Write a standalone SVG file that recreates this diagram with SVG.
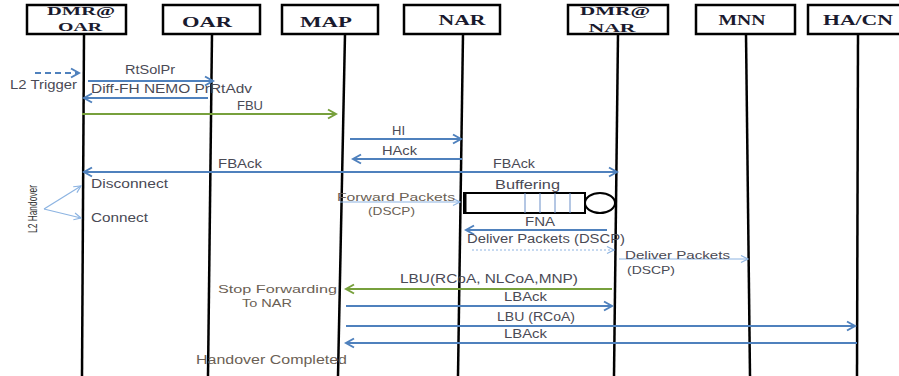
<svg xmlns="http://www.w3.org/2000/svg" width="899" height="376" viewBox="0 0 899 376">
<style>
.box{fill:#fff;stroke:#000;stroke-width:2.5}
.life{stroke:#000;stroke-width:2.5;fill:none}
.hd{font-family:"Liberation Serif",serif;font-weight:bold;fill:#1a1a2e;text-anchor:middle}
.lb{font-family:"Liberation Sans",sans-serif;font-size:12px;fill:#4a4a55}
.br{fill:#6b5f55}
.blue{stroke:#4f81bd;stroke-width:2.2;fill:none}
.green{stroke:#77a03c;stroke-width:2.2;fill:none}
.thin{stroke:#8db4e2;stroke-width:1.2;fill:none}
</style>
<defs>
<marker id="ab" markerUnits="userSpaceOnUse" markerWidth="12" markerHeight="12" refX="10" refY="6" orient="auto-start-reverse"><path d="M2,1.5 L10,6 L2,10.5" fill="none" stroke="#4f81bd" stroke-width="2"/></marker>
<marker id="ag" markerUnits="userSpaceOnUse" markerWidth="12" markerHeight="12" refX="10" refY="6" orient="auto"><path d="M2,1.5 L10,6 L2,10.5" fill="none" stroke="#77a03c" stroke-width="2"/></marker>
<marker id="at" markerUnits="userSpaceOnUse" markerWidth="10" markerHeight="10" refX="8" refY="5" orient="auto-start-reverse"><path d="M1,1.5 L8,5 L1,8.5" fill="none" stroke="#8db4e2" stroke-width="1.2"/></marker>
</defs>

<g id="dmr-oar">
<line class="life" x1="84" y1="34" x2="82" y2="376"/>
<rect class="box" x="27" y="5" width="99" height="29"/>
<text class="hd" x="81" y="15" font-size="13" textLength="68" lengthAdjust="spacingAndGlyphs">DMR@</text>
<text class="hd" x="80" y="31" font-size="13" textLength="44" lengthAdjust="spacingAndGlyphs">OAR</text>
</g>
<g id="oar">
<line class="life" x1="212" y1="34" x2="208" y2="376"/>
<rect class="box" x="163" y="5" width="97" height="29"/>
<text class="hd" x="207" y="27" font-size="15" textLength="50" lengthAdjust="spacingAndGlyphs">OAR</text>
</g>
<g id="map">
<line class="life" x1="345" y1="34" x2="338" y2="376"/>
<rect class="box" x="282" y="5" width="96" height="29"/>
<text class="hd" x="326" y="27" font-size="15" textLength="52" lengthAdjust="spacingAndGlyphs">MAP</text>
</g>
<g id="nar">
<line class="life" x1="463" y1="34" x2="458" y2="376"/>
<rect class="box" x="404" y="5" width="96" height="29"/>
<text class="hd" x="462" y="25" font-size="15" textLength="47" lengthAdjust="spacingAndGlyphs">NAR</text>
</g>
<g id="dmr-nar">
<line class="life" x1="618" y1="34" x2="614" y2="376"/>
<rect class="box" x="568" y="5" width="100" height="29"/>
<text class="hd" x="615" y="15" font-size="13" textLength="70" lengthAdjust="spacingAndGlyphs">DMR@</text>
<text class="hd" x="612" y="32" font-size="13" textLength="47" lengthAdjust="spacingAndGlyphs">NAR</text>
</g>
<g id="mnn">
<line class="life" x1="746" y1="34" x2="750" y2="376"/>
<rect class="box" x="696" y="5" width="99" height="29"/>
<text class="hd" x="742" y="25" font-size="14" textLength="47" lengthAdjust="spacingAndGlyphs">MNN</text>
</g>
<g id="ha-cn">
<line class="life" x1="858" y1="34" x2="857" y2="376"/>
<rect class="box" x="808" y="5" width="93" height="29"/>
<text class="hd" x="858" y="25" font-size="14" textLength="70" lengthAdjust="spacingAndGlyphs">HA/CN</text>
</g>

<g id="connectors">
<line class="blue" x1="35" y1="73" x2="79" y2="73" stroke-dasharray="6,4" marker-end="url(#ab)"/>
<line class="blue" x1="88" y1="81" x2="213" y2="81" marker-end="url(#ab)"/>
<line class="blue" x1="208" y1="98" x2="84" y2="98" marker-end="url(#ab)"/>
<line class="green" x1="82" y1="114" x2="336" y2="114" marker-end="url(#ag)"/>
<line class="blue" x1="350" y1="139" x2="461" y2="139" marker-end="url(#ab)"/>
<line class="blue" x1="462" y1="159" x2="353" y2="159" marker-end="url(#ab)"/>
<line class="blue" x1="617" y1="172" x2="84" y2="172" stroke-width="1.5" marker-start="url(#ab)" marker-end="url(#ab)"/>
<line class="thin" x1="44" y1="209" x2="81" y2="186" marker-end="url(#at)"/>
<line class="thin" x1="44" y1="209" x2="81" y2="218" marker-end="url(#at)"/>
<line class="thin" x1="340" y1="202" x2="460" y2="202" marker-end="url(#at)"/>
<line class="blue" x1="607" y1="230" x2="466" y2="230" marker-end="url(#ab)"/>
<line class="thin" x1="472" y1="250" x2="614" y2="250" stroke-dasharray="2,2" marker-end="url(#at)"/>
<line class="thin" x1="619" y1="259" x2="748" y2="259" marker-end="url(#at)"/>
<line class="green" x1="612" y1="289" x2="346" y2="289" marker-end="url(#ag)"/>
<line class="blue" x1="346" y1="306" x2="612" y2="306" marker-end="url(#ab)"/>
<line class="blue" x1="346" y1="326" x2="855" y2="326" marker-end="url(#ab)"/>
<line class="blue" x1="857" y1="343" x2="346" y2="343" marker-end="url(#ab)"/>
</g>

<g id="buffer">
<rect x="464" y="193" width="121" height="20" fill="#fff" stroke="#000" stroke-width="2"/>
<line x1="465" y1="193" x2="465" y2="213" stroke="#000" stroke-width="3"/>
<g stroke="#6a8fc8" stroke-width="1">
<line x1="525" y1="193" x2="525" y2="213"/>
<line x1="540" y1="193" x2="540" y2="213"/>
<line x1="555" y1="193" x2="555" y2="213"/>
<line x1="570" y1="193" x2="570" y2="213"/>
</g>
<ellipse cx="600" cy="203" rx="15" ry="10" fill="#fff" stroke="#000" stroke-width="2"/>
</g>

<g id="labels" class="lb">
<text x="10" y="89" textLength="67" lengthAdjust="spacingAndGlyphs">L2 Trigger</text>
<text x="125" y="74" textLength="50" lengthAdjust="spacingAndGlyphs">RtSolPr</text>
<text x="91" y="93" textLength="161" lengthAdjust="spacingAndGlyphs">Diff-FH NEMO PrRtAdv</text>
<text x="237" y="110" textLength="26" lengthAdjust="spacingAndGlyphs">FBU</text>
<text x="392" y="135" textLength="13" lengthAdjust="spacingAndGlyphs">HI</text>
<text x="382" y="155" textLength="35" lengthAdjust="spacingAndGlyphs">HAck</text>
<text x="218" y="168" textLength="44" lengthAdjust="spacingAndGlyphs">FBAck</text>
<text x="493" y="168" textLength="42" lengthAdjust="spacingAndGlyphs">FBAck</text>
<text x="91" y="188" textLength="77" lengthAdjust="spacingAndGlyphs">Disconnect</text>
<text x="91" y="222" textLength="57" lengthAdjust="spacingAndGlyphs">Connect</text>
<text transform="translate(37,233) rotate(-90)" x="0" y="0" font-size="13" textLength="48" lengthAdjust="spacingAndGlyphs" fill="#333">L2 Handover</text>
<text x="495" y="189" textLength="65" lengthAdjust="spacingAndGlyphs">Buffering</text>
<text class="br" x="337" y="201" font-size="11.5" textLength="118" lengthAdjust="spacingAndGlyphs">Forward Packets</text>
<text class="br" x="368" y="215" font-size="11.5" textLength="47" lengthAdjust="spacingAndGlyphs">(DSCP)</text>
<text x="525" y="226" textLength="30" lengthAdjust="spacingAndGlyphs">FNA</text>
<text x="467" y="243" textLength="158" lengthAdjust="spacingAndGlyphs">Deliver Packets (DSCP)</text>
<text x="625" y="259" font-size="11.5" textLength="105" lengthAdjust="spacingAndGlyphs">Deliver Packets</text>
<text x="627" y="274" font-size="11.5" textLength="48" lengthAdjust="spacingAndGlyphs">(DSCP)</text>
<text x="400" y="283" textLength="178" lengthAdjust="spacingAndGlyphs">LBU(RCoA, NLCoA,MNP)</text>
<text class="br" x="218" y="293" font-size="11.5" textLength="119" lengthAdjust="spacingAndGlyphs">Stop Forwarding</text>
<text class="br" x="242" y="307" font-size="11.5" textLength="50" lengthAdjust="spacingAndGlyphs">To NAR</text>
<text x="504" y="301" textLength="43" lengthAdjust="spacingAndGlyphs">LBAck</text>
<text x="497" y="321" textLength="78" lengthAdjust="spacingAndGlyphs">LBU (RCoA)</text>
<text x="504" y="338" textLength="43" lengthAdjust="spacingAndGlyphs">LBAck</text>
<text class="br" x="196" y="364" textLength="151" lengthAdjust="spacingAndGlyphs">Handover Completed</text>
</g>
</svg>
